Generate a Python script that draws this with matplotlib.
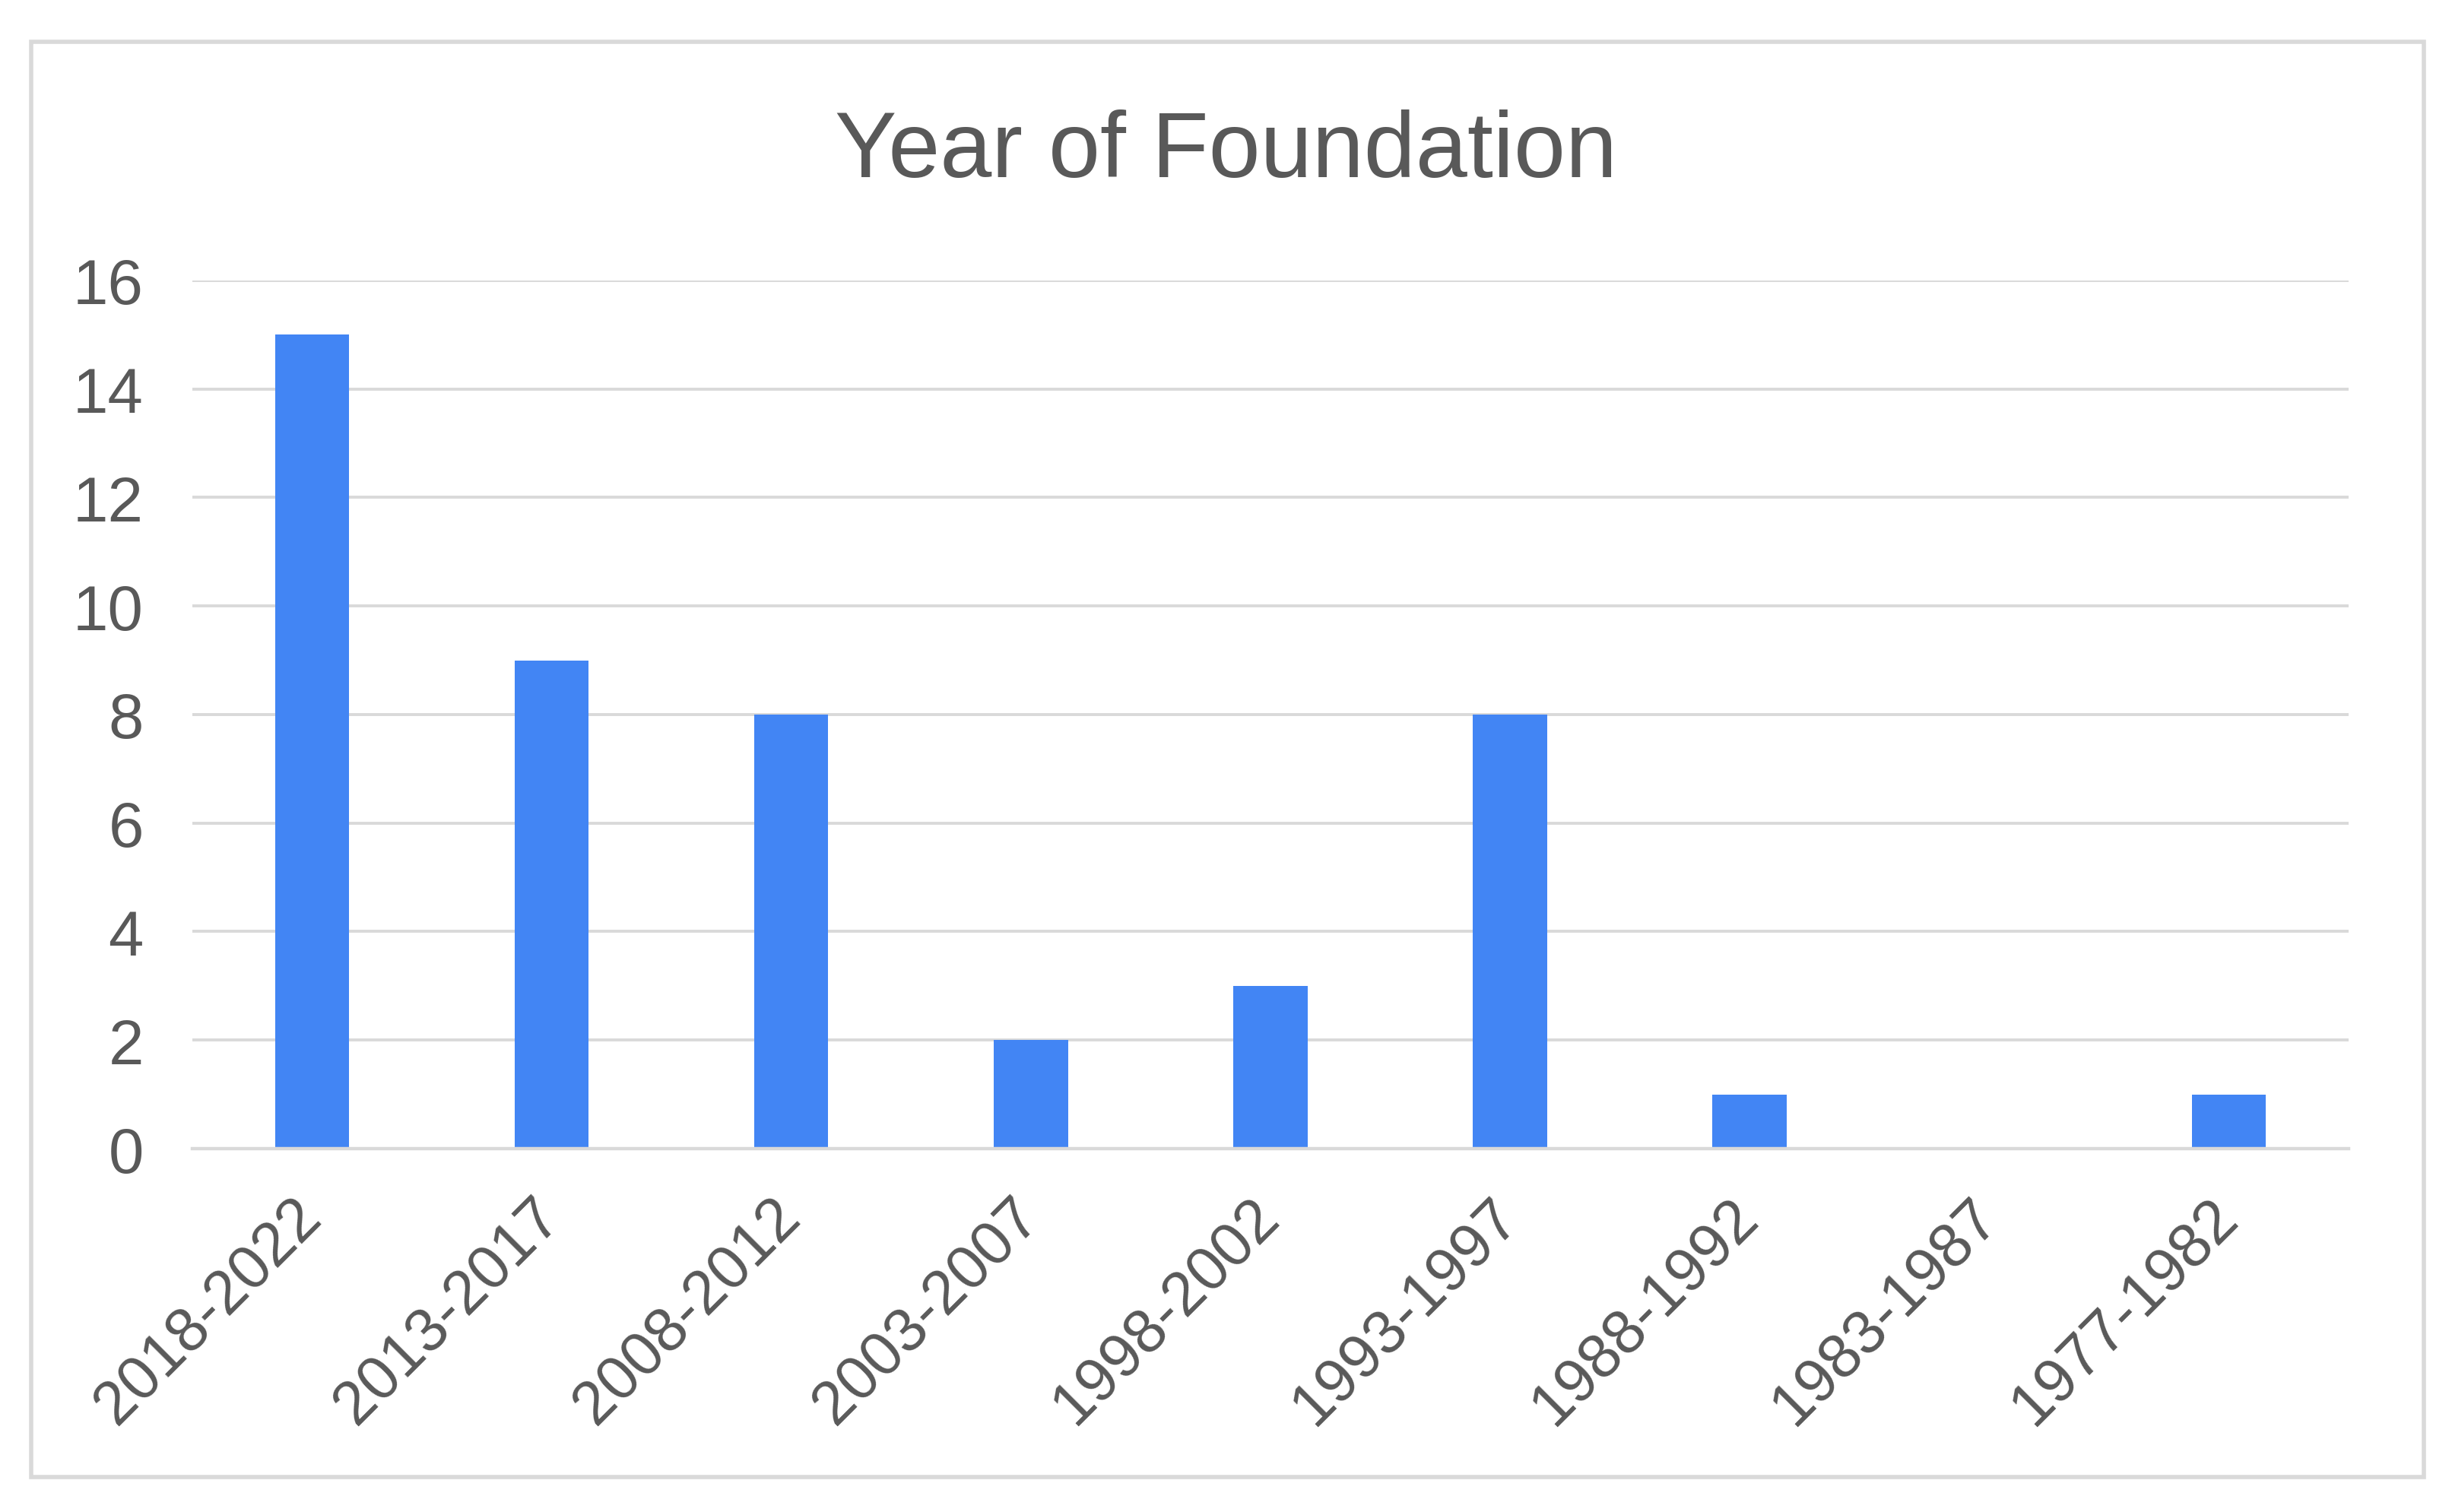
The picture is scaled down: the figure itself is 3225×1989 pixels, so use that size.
import numpy as np
import matplotlib
matplotlib.use("Agg")
import matplotlib.pyplot as plt
from matplotlib.patches import Rectangle

# data
periods = ["2018-2022", "2013-2017", "2008-2012", "2003-2007", "1998-2002",
           "1993-1997", "1988-1992", "1983-1987", "1977-1982"]
counts = [15, 9, 8, 2, 3, 8, 1, 0, 1]
yticks = [0, 2, 4, 6, 8, 10, 12, 14, 16]

plt.rcParams['font.family'] = ['Liberation Sans', 'DejaVu Sans']
text_col = '#595959'
grid_col = '#d9d9d9'

fig = plt.figure(figsize=(32.25, 19.9), dpi=100)
ax = fig.add_axes([0.0784, 0.2402, 0.8794, 0.5739])

x = np.arange(len(periods))
ax.bar(x, counts, width=0.31, color='#4285f4', zorder=3)

ax.set_xlim(-0.5, len(periods) - 0.5)
ax.set_ylim(0, 16)
ax.set_yticks(yticks)
ax.set_xticks(x)
ax.set_xticklabels(periods, rotation=45, ha='right', va='center',
                   rotation_mode='anchor')

ax.grid(axis='y', color=grid_col, linewidth=2.8, zorder=0)
ax.set_axisbelow(True)
for s in ['top', 'right', 'left']:
    ax.spines[s].set_visible(False)
ax.spines['bottom'].set_color(grid_col)
ax.spines['bottom'].set_linewidth(3.2)
ax.spines['bottom'].set_zorder(4)

ax.tick_params(axis='y', length=0, pad=46, labelsize=60, labelcolor=text_col)
ax.tick_params(axis='x', length=0, pad=56, labelsize=58, labelcolor=text_col)

fig.text(0.5, 0.899, "Year of Foundation", ha='center', va='center',
         fontsize=88, color=text_col)

# light grey frame round the chart
fig.patches.append(Rectangle((0.0127, 0.0231), 0.9758, 0.9488,
                             transform=fig.transFigure, fill=False,
                             edgecolor=grid_col, linewidth=4))

plt.savefig('out.png', dpi=100)
